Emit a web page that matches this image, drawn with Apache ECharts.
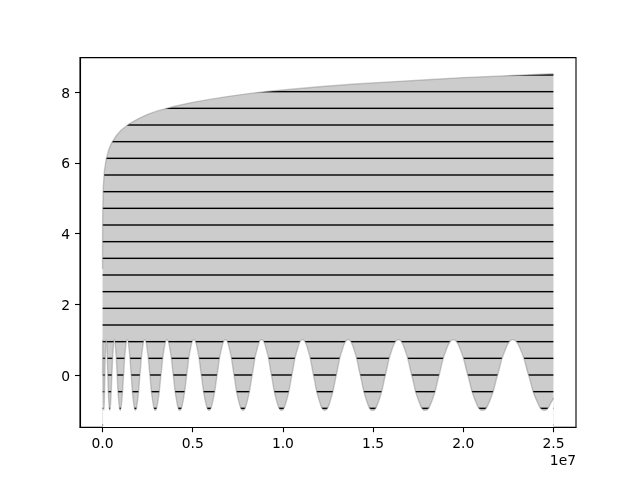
<!DOCTYPE html>
<html><head><meta charset="utf-8">
<script src="https://cdn.jsdelivr.net/npm/echarts@6/dist/echarts.min.js"></script>
<style>html,body{margin:0;padding:0;background:#fff}#c{width:640px;height:480px}</style>
</head><body><div id="c"></div>
<script>
// Lower (oscillating) boundary of the filled band
const lowerX = [0, 2025, 8100, 18225, 32400, 50625, 72900, 99225, 129600, 164025,
  202500, 245025, 291600, 342225, 396900, 455625, 518400, 585225, 656100, 731025,
  810000, 893025, 980100, 1071225, 1166400, 1265625, 1368900, 1476225, 1587600, 1703025,
  1822500, 1946025, 2073600, 2205225, 2340900, 2480625, 2624400, 2772225, 2924100, 3080025,
  3240000, 3404025, 3572100, 3744225, 3920400, 4100625, 4284900, 4473225, 4665600, 4862025,
  5062500, 5267025, 5475600, 5688225, 5904900, 6125625, 6350400, 6579225, 6812100, 7049025,
  7290000, 7535025, 7784100, 8037225, 8294400, 8555625, 8820900, 9090225, 9363600, 9641025,
  9922500, 10208025, 10497600, 10791225, 11088900, 11390625, 11696400, 12006225, 12320100, 12638025,
  12960000, 13286025, 13616100, 13950225, 14288400, 14630625, 14976900, 15327225, 15681600, 16040025,
  16402500, 16769025, 17139600, 17514225, 17892900, 18275625, 18662400, 19053225, 19448100, 19847025,
  20250000, 20657025, 21068100, 21483225, 21902400, 22325625, 22752900, 23184225, 23619600, 24059025,
  24502500, 24950025, 25000000];
const lowerY = [
  0, 0.71, 1, 0.71, 0, -0.71, -1, -0.71,
  0, 0.71, 1, 0.71, 0, -0.71, -1, -0.71,
  0, 0.71, 1, 0.71, 0, -0.71, -1, -0.71,
  0, 0.71, 1, 0.71, 0, -0.71, -1, -0.71,
  0, 0.71, 1, 0.71, 0, -0.71, -1, -0.71,
  0, 0.71, 1, 0.71, 0, -0.71, -1, -0.71,
  0, 0.71, 1, 0.71, 0, -0.71, -1, -0.71,
  0, 0.71, 1, 0.71, 0, -0.71, -1, -0.71,
  0, 0.71, 1, 0.71, 0, -0.71, -1, -0.71,
  0, 0.71, 1, 0.71, 0, -0.71, -1, -0.71,
  0, 0.71, 1, 0.71, 0, -0.71, -1, -0.71,
  0, 0.71, 1, 0.71, 0, -0.71, -1, -0.71,
  0, 0.71, 1, 0.71, 0, -0.71, -1, -0.71,
  0, 0.71, 1, 0.71, 0, -0.71, -1, -0.71,
  -0.64];
// Upper (rising) boundary of the filled band
const upperX = [0, 2000, 10000, 40000, 100000, 200000, 350000, 500000, 750000, 1000000,
  1500000, 2000000, 2500000, 3000000, 4000000, 5000000, 6000000, 7000000, 8000000, 9000000,
  10000000, 12000000, 14000000, 16000000, 18000000, 20000000, 22500000, 25000000];
const upperY = [3.0, 3.80, 4.61, 5.30, 5.76, 6.10, 6.38, 6.56, 6.76, 6.91,
  7.11, 7.25, 7.37, 7.46, 7.60, 7.71, 7.80, 7.88, 7.95, 8.01,
  8.06, 8.15, 8.23, 8.29, 8.35, 8.41, 8.46, 8.52];
const xTicks = [0, 5000000, 10000000, 15000000, 20000000, 25000000];
const yTicks = [0, 2, 4, 6, 8];
const xOffsetLabel = '1e7';

// hatch tile: light gray face with horizontal dark lines every 16.67 px
const tile = document.createElement('canvas');
tile.width = 10; tile.height = 50;
const tc = tile.getContext('2d');
tc.fillStyle = '#cccccc';
tc.fillRect(0, 0, 10, 50);
tc.fillStyle = '#000000';
[8.333, 25, 41.667].forEach(c => tc.fillRect(0, c - 0.7, 10, 1.4));

const zip = (xs, ys) => xs.map((x, i) => [x, ys[i]]);
const FONT = 'DejaVu Sans';
const edge = 'rgba(128,128,128,0.4)';

const chart = echarts.init(document.getElementById('c'), null, {renderer: 'canvas'});
chart.setOption({
  animation: false,
  backgroundColor: '#ffffff',
  grid: {left: 80, top: 57.6, width: 496, height: 369.6, show: true,
         borderColor: '#000', borderWidth: 1.1, backgroundColor: 'transparent'},
  xAxis: {
    type: 'value', min: -1250000, max: 26250000, z: 10,
    axisLine: {show: true, onZero: false, lineStyle: {color: '#000', width: 1.1}},
    axisTick: {show: true, inside: false, length: 5, lineStyle: {color: '#000', width: 1.1}, customValues: xTicks},
    axisLabel: {customValues: xTicks, margin: 10, color: '#000', fontFamily: FONT, fontSize: 13.89,
                formatter: v => (v / 1e7).toFixed(1)},
    splitLine: {show: false}
  },
  yAxis: {
    type: 'value', min: -1.475, max: 8.975, z: 10,
    axisLine: {show: true, onZero: false, lineStyle: {color: '#000', width: 1.1}},
    axisTick: {show: true, inside: false, length: 5, lineStyle: {color: '#000', width: 1.1}, customValues: yTicks},
    axisLabel: {customValues: yTicks, margin: 10, color: '#000', fontFamily: FONT, fontSize: 13.89,
                formatter: v => '{a|' + v + '}',
                rich: {a: {color: '#000', fontFamily: FONT, fontSize: 13.89, padding: [4, 0, 0, 0]}}},
    splitLine: {show: false}
  },
  graphic: [{type: 'text', right: 64, top: 454,
             style: {text: xOffsetLabel, fill: '#000', font: '13.89px "DejaVu Sans"'}}],
  series: [
    {type: 'line', data: zip(upperX, upperY), showSymbol: false, symbol: 'none',
     smooth: false,
     lineStyle: {color: edge, width: 1.4},
     areaStyle: {color: {image: tile, repeat: 'repeat'}, opacity: 1, origin: 'start'}},
    {type: 'line', data: zip(lowerX, lowerY), showSymbol: false, symbol: 'none',
     smooth: true,
     lineStyle: {color: edge, width: 1.4},
     areaStyle: {color: '#ffffff', opacity: 1, origin: 'start'}}
  ]
});
</script>
</body></html>
